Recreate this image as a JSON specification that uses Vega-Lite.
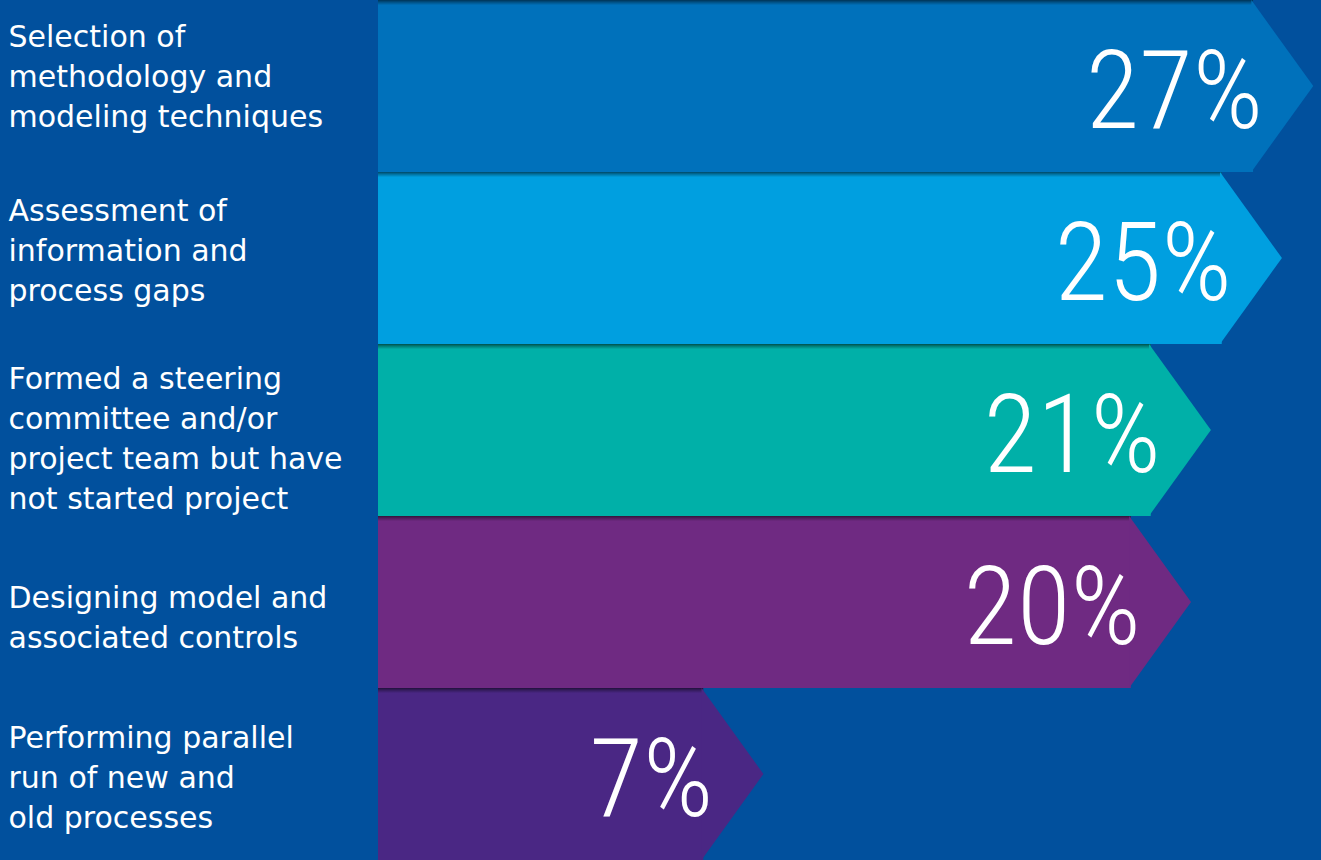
{
  "$schema": "https://vega.github.io/schema/vega-lite/v6.json",
  "width": 943,
  "height": 860,
  "autosize": {"type": "none"},
  "padding": {"left": 378, "top": 0, "right": 0, "bottom": 0},
  "background": "#01509d",
  "view": {"stroke": null, "fill": "#01509d"},
  "data": {
    "values": [
      {"item": "Selection of|methodology and|modeling techniques", "value": 27, "pct": "27%"},
      {"item": "Assessment of|information and|process gaps", "value": 25, "pct": "25%"},
      {"item": "Formed a steering|committee and/or|project team but have|not started project", "value": 21, "pct": "21%"},
      {"item": "Designing model and|associated controls", "value": 20, "pct": "20%"},
      {"item": "Performing parallel|run of new and|old processes", "value": 7, "pct": "7%"}
    ]
  },
  "encoding": {
    "y": {
      "field": "item",
      "type": "nominal",
      "sort": null,
      "scale": {"paddingInner": 0, "paddingOuter": 0},
      "axis": {
        "title": null,
        "ticks": false,
        "tickSize": 0,
        "domain": false,
        "labelAlign": "left",
        "labelBaseline": "middle",
        "labelPadding": 370,
        "labelColor": "white",
        "labelFont": "DejaVu Sans",
        "labelFontSize": 30,
        "labelLineHeight": 40,
        "labelLimit": 0,
        "labelExpr": "split(datum.label, '|')",
        "labelOffset": {
          "condition": [
            {"test": "datum.value === 'Selection of|methodology and|modeling techniques'", "value": -48},
            {"test": "datum.value === 'Assessment of|information and|process gaps'", "value": -46},
            {"test": "datum.value === 'Formed a steering|committee and/or|project team but have|not started project'", "value": -50},
            {"test": "datum.value === 'Designing model and|associated controls'", "value": -3}
          ],
          "value": -35
        }
      }
    },
    "x": {
      "field": "value",
      "type": "quantitative",
      "scale": {"type": "log", "domain": [3.15, 31.9], "nice": false},
      "axis": null
    },
    "color": {
      "field": "item",
      "type": "nominal",
      "sort": null,
      "legend": null,
      "scale": {
        "domain": [
          "Selection of|methodology and|modeling techniques",
          "Assessment of|information and|process gaps",
          "Formed a steering|committee and/or|project team but have|not started project",
          "Designing model and|associated controls",
          "Performing parallel|run of new and|old processes"
        ],
        "range": ["#0071bb", "#009fe0", "#00b0a8", "#6f2a82", "#4a2784"]
      }
    }
  },
  "layer": [
    {
      "mark": {"type": "bar", "opacity": 1},
      "encoding": {"x2": {"datum": 3.15}}
    },
    {
      "mark": {"type": "bar", "opacity": 1},
      "encoding": {
        "x2": {"datum": 3.15},
        "color": {
          "value": {
            "gradient": "linear",
            "x1": 0, "y1": 0, "x2": 0, "y2": 1,
            "stops": [
              {"offset": 0, "color": "rgba(0,0,0,0.55)"},
              {"offset": 0.012, "color": "rgba(0,0,0,0.3)"},
              {"offset": 0.03, "color": "rgba(0,0,0,0)"},
              {"offset": 1, "color": "rgba(0,0,0,0)"}
            ]
          }
        }
      }
    },
    {
      "mark": {
        "type": "point",
        "shape": "M-0.02,-1L0.7,0L-0.02,1Z",
        "size": 29584,
        "filled": true,
        "opacity": 1,
        "strokeWidth": 0
      }
    },
    {
      "mark": {
        "type": "text",
        "align": "right",
        "baseline": "middle",
        "dx": 10,
        "dy": 9,
        "fontSize": 110,
        "font": "Liberation Sans Narrow, Roboto Condensed, Roboto",
        "fontWeight": 300,
        "color": "white"
      },
      "encoding": {"text": {"field": "pct"}, "color": {"value": "white"}}
    }
  ]
}
